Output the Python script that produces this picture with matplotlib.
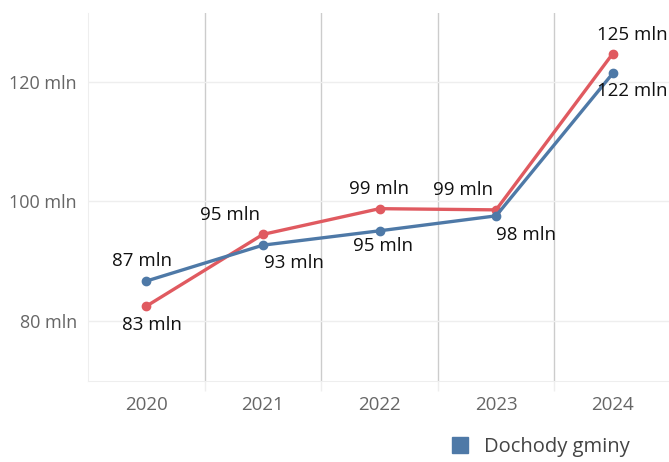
import matplotlib
matplotlib.use('Agg')
import matplotlib.pyplot as plt
from matplotlib.patches import Patch

plt.rcParams['font.family'] = ['Open Sans', 'DejaVu Sans']

# data
years = ['2020', '2021', '2022', '2023', '2024']
wydatki = [82.5, 94.5, 98.8, 98.6, 124.7]   # red series
dochody = [86.7, 92.7, 95.1, 97.6, 121.4]   # blue series
wydatki_labels = ['83 mln', '95 mln', '99 mln', '99 mln', '125 mln']
dochody_labels = ['87 mln', '93 mln', '95 mln', '98 mln', '122 mln']
y_ticks = [80, 100, 120]
y_tick_labels = ['80 mln', '100 mln', '120 mln']

red = '#e05a60'
blue = '#4e79a7'

# label offsets in pixels (dx, dy)
red_off = [(6, -19), (-33, 19), (-1, 20), (-33, 20), (20, 19)]
blue_off = [(-4, 20), (31, -18), (3, -15), (30, -19), (20, -18)]

fig = plt.figure(figsize=(6.69, 4.62), dpi=100)
ax = fig.add_axes([88/669, 1 - 381/462, 583/669, 368/462])

x = list(range(len(years)))
ax.plot(x, wydatki, color=red, linewidth=2.4, marker='o', markersize=6, zorder=4)
ax.plot(x, dochody, color=blue, linewidth=2.4, marker='o', markersize=6, zorder=5)

for i in x:
    ax.annotate(wydatki_labels[i], (x[i], wydatki[i]), xytext=red_off[i],
                textcoords='offset pixels', ha='center', va='center',
                fontsize=13.5, color='#111111', zorder=6)
    ax.annotate(dochody_labels[i], (x[i], dochody[i]), xytext=blue_off[i],
                textcoords='offset pixels', ha='center', va='center',
                fontsize=13.5, color='#111111', zorder=6)

ax.set_xlim(-0.5, 4.5)
ax.set_ylim(70, 131.5)
ax.set_xticks(x)
ax.set_xticklabels(years)
ax.set_xticks([0.5, 1.5, 2.5, 3.5], minor=True)
ax.set_yticks(y_ticks)
ax.set_yticklabels(y_tick_labels)
ax.tick_params(axis='x', which='major', length=0, labelsize=13.5, labelcolor='#666666', pad=11)
ax.tick_params(axis='x', which='minor', length=7, color='#eeeeee', width=1)
ax.tick_params(axis='y', length=0, labelsize=13, labelcolor='#666666', pad=8)

ax.grid(axis='y', which='major', color='#eeeeee', linewidth=1)
ax.grid(axis='x', which='minor', color='#cccccc', linewidth=1)
ax.set_axisbelow(True)

for s in ['top', 'right']:
    ax.spines[s].set_visible(False)
ax.spines['left'].set_color('#eeeeee')
ax.spines['bottom'].set_color('#eeeeee')

fig.legend(handles=[Patch(color=blue)], labels=['Dochody gminy'],
           loc='center left', bbox_to_anchor=(452/669, 1 - 447/462),
           frameon=False, fontsize=14.5, handlelength=0.8, handleheight=0.8,
           handletextpad=0.8, borderpad=0, borderaxespad=0, labelcolor='#444444')

fig.savefig('out.png', dpi=100)
